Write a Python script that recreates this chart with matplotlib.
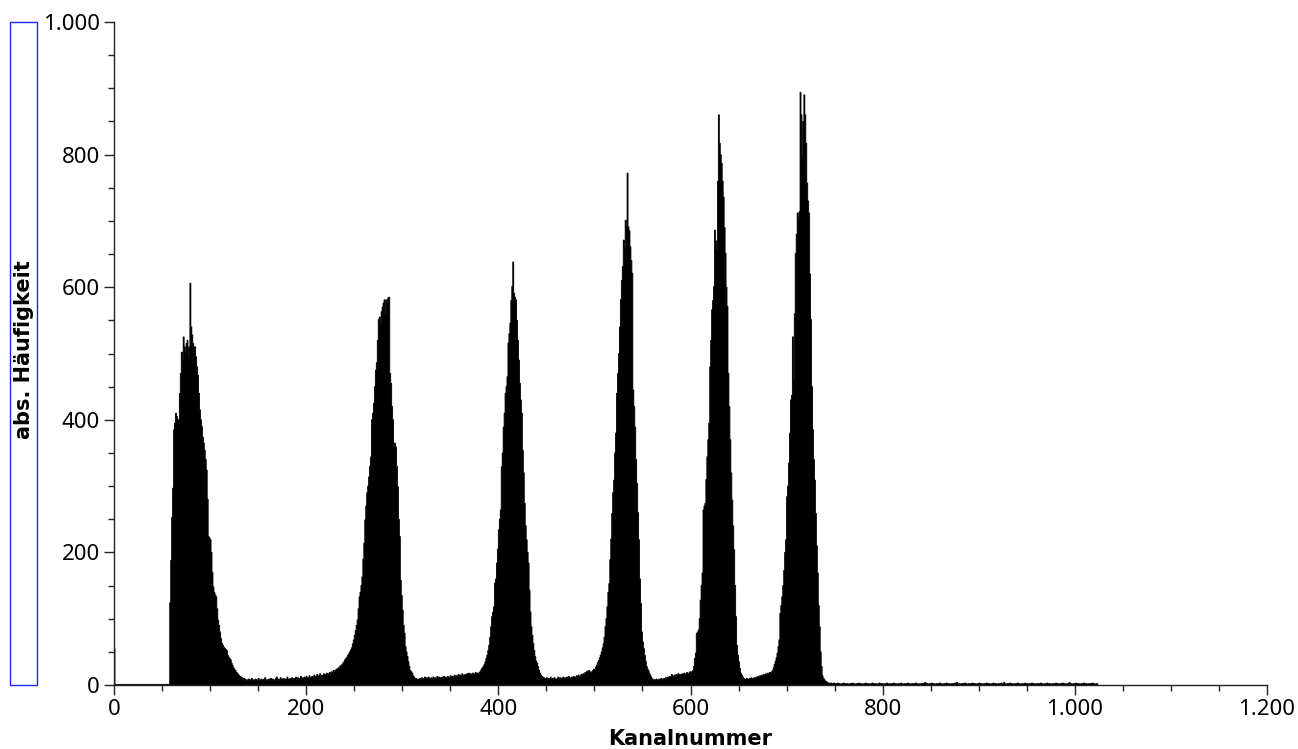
import matplotlib
matplotlib.use("Agg")
import matplotlib.pyplot as plt
import numpy as np
from matplotlib.patches import Rectangle
from matplotlib.ticker import MultipleLocator, FuncFormatter

# Spectrum: counts per channel
n_channels = 1024

lead = [55] + [1] * 57  # ch 0..57

peak1 = [  # ch 58..135
    124, 188, 253, 297, 385, 395, 410, 405, 400, 400,
    440, 470, 502, 490, 525, 510, 500, 515, 520, 495,
    510, 606, 540, 528, 515, 510, 510, 495, 480, 467,
    440, 415, 400, 390, 374, 365, 354, 340, 324, 280,
    224, 222, 219, 200, 170, 148, 140, 136, 133, 115,
    98, 90, 80, 70, 63, 60, 57, 55, 54, 52,
    45, 42, 40, 38, 33, 30, 26, 24, 22, 19,
    18, 16, 14, 13, 12, 11, 10, 10]

gap1 = [  # ch 136..229
    9, 7, 8, 6, 9, 7, 8, 10, 7, 8,
    6, 9, 8, 7, 10, 8, 6, 9, 7, 8,
    9, 11, 7, 8, 6, 9, 8, 10, 7, 9,
    8, 7, 10, 12, 8, 9, 7, 11, 8, 9,
    10, 8, 9, 7, 12, 9, 8, 10, 9, 11,
    8, 10, 9, 12, 8, 11, 9, 10, 13, 9,
    11, 10, 12, 9, 13, 10, 11, 14, 10, 12,
    13, 11, 15, 12, 13, 16, 12, 14, 17, 13,
    15, 14, 17, 15, 16, 18, 15, 17, 19, 18,
    20, 18, 22, 21]

peak2 = [  # ch 230..316
    22, 24, 23, 26, 25, 29, 28, 31, 33, 35,
    38, 40, 42, 45, 47, 50, 53, 56, 62, 68,
    75, 82, 90, 98, 115, 133, 140, 150, 163, 190,
    214, 249, 270, 290, 300, 314, 330, 344, 400, 410,
    425, 450, 475, 486, 520, 551, 555, 545, 563, 570,
    576, 581, 560, 581, 575, 584, 585, 470, 455, 420,
    400, 359, 365, 359, 330, 299, 250, 224, 158, 135,
    113, 90, 78, 58, 50, 43, 35, 28, 22, 20,
    18, 14, 12, 10, 10, 9, 8]

gap2 = [  # ch 317..381
    9, 10, 8, 11, 9, 10, 12, 9, 11, 10,
    12, 10, 9, 11, 10, 12, 9, 11, 10, 13,
    10, 12, 11, 9, 12, 10, 13, 11, 12, 10,
    13, 11, 12, 14, 11, 13, 12, 15, 12, 14,
    13, 16, 14, 15, 13, 17, 15, 14, 16, 15,
    17, 15, 18, 16, 17, 15, 18, 17, 16, 19,
    17, 18, 16, 19, 21]

peak3 = [  # ch 382..447
    24, 26, 28, 31, 35, 40, 45, 52, 60, 72,
    88, 103, 110, 118, 154, 160, 184, 205, 234, 250,
    264, 329, 350, 389, 410, 440, 450, 465, 516, 530,
    546, 580, 601, 638, 591, 585, 581, 550, 520, 490,
    455, 430, 410, 354, 320, 274, 240, 219, 200, 184,
    143, 110, 88, 75, 63, 52, 43, 36, 33, 28,
    22, 18, 15, 13, 12, 11]

gap3 = [  # ch 448..494
    10, 9, 11, 8, 10, 9, 12, 8, 10, 9,
    11, 9, 8, 10, 12, 9, 11, 10, 9, 12,
    10, 11, 9, 12, 10, 13, 11, 10, 12, 11,
    13, 12, 11, 14, 12, 15, 13, 14, 16, 14,
    17, 15, 19, 18, 21, 20, 22]

peak4 = [  # ch 495..561
    18, 20, 19, 22, 24, 23, 27, 30, 34, 37,
    41, 45, 50, 56, 62, 72, 88, 100, 118, 140,
    153, 189, 220, 259, 290, 309, 350, 380, 440, 470,
    500, 540, 581, 610, 631, 671, 660, 701, 690, 772,
    691, 685, 661, 640, 621, 445, 420, 389, 340, 304,
    260, 219, 160, 123, 80, 65, 55, 45, 36, 28,
    24, 21, 17, 14, 11, 9, 8]

gap4 = [  # ch 562..599
    8, 7, 9, 8, 7, 9, 8, 10, 8, 9,
    10, 9, 11, 10, 12, 11, 13, 12, 16, 14,
    13, 15, 14, 16, 15, 17, 14, 16, 15, 17,
    16, 18, 15, 17, 19, 16, 18, 20]

peak5 = [  # ch 600..655
    19, 20, 22, 28, 40, 48, 78, 80, 83, 100,
    128, 150, 169, 264, 270, 274, 310, 344, 370, 395,
    480, 520, 566, 580, 601, 686, 670, 656, 760, 860,
    817, 800, 787, 760, 736, 690, 651, 600, 571, 470,
    420, 370, 320, 279, 240, 204, 150, 103, 60, 45,
    35, 25, 18, 15, 12, 10]

gap5 = [  # ch 656..685
    9, 8, 10, 9, 8, 10, 9, 11, 9, 10,
    11, 10, 12, 11, 13, 12, 14, 13, 15, 14,
    16, 15, 17, 16, 18, 17, 19, 18, 20, 22]

peak6 = [  # ch 686..742
    26, 31, 36, 41, 48, 58, 68, 108, 120, 133,
    150, 173, 200, 219, 284, 300, 335, 380, 430, 437,
    525, 460, 560, 651, 680, 712, 700, 714, 894, 860,
    797, 850, 890, 860, 817, 757, 730, 712, 620, 551,
    450, 385, 340, 309, 259, 210, 169, 120, 88, 50,
    28, 14, 10, 8, 6, 5, 4]

tail = [  # ch 743..1023
    3, 3, 2, 3, 2, 2, 3, 2, 2, 2, 3, 2, 2, 1, 2, 2, 3, 2, 2, 2,
    2, 1, 2, 2, 2, 3, 2, 2, 1, 2, 2, 2, 3, 2, 2, 2, 1, 2, 2, 3,
    2, 2, 2, 1, 2, 2, 3, 2, 2, 2, 2, 1, 2, 3, 2, 2, 2, 2, 1, 2,
    2, 3, 2, 2, 1, 2, 2, 2, 3, 2, 2, 2, 1, 2, 2, 2, 3, 2, 1, 2,
    2, 2, 2, 3, 2, 2, 1, 2, 2, 2, 2, 3, 2, 2, 1, 2, 2, 2, 2, 2,
    3, 4, 2, 2, 1, 2, 2, 2, 3, 2, 2, 1, 2, 2, 2, 2, 3, 2, 2, 1,
    2, 2, 2, 3, 2, 2, 2, 1, 2, 2, 2, 2, 3, 2, 4, 2, 2, 1, 2, 2,
    2, 2, 3, 2, 2, 1, 2, 2, 2, 2, 3, 2, 2, 2, 1, 2, 2, 3, 2, 2,
    2, 1, 2, 2, 2, 3, 2, 2, 2, 1, 2, 2, 3, 2, 2, 2, 1, 2, 2, 2,
    3, 2, 2, 4, 2, 1, 2, 2, 2, 3, 2, 2, 2, 1, 2, 2, 2, 3, 2, 2,
    1, 2, 2, 2, 2, 3, 2, 2, 1, 2, 2, 2, 3, 2, 2, 2, 1, 2, 2, 2,
    2, 3, 2, 2, 1, 2, 2, 2, 3, 2, 2, 2, 1, 2, 2, 2, 2, 3, 2, 2,
    1, 2, 2, 2, 3, 2, 2, 2, 1, 2, 2, 4, 2, 2, 1, 2, 2, 2, 3, 2,
    2, 2, 1, 2, 2, 2, 3, 2, 2, 2, 1, 2, 2, 2, 2, 3, 2, 2, 1, 2,
    2]

# start channel of each block; background first, peaks on top
segments = [
    (0, lead), (136, gap1), (317, gap2), (448, gap3), (562, gap4),
    (656, gap5), (743, tail),
    (58, peak1), (230, peak2), (382, peak3), (495, peak4),
    (600, peak5), (686, peak6),
]

counts = np.zeros(n_channels)
for start, vals in segments:
    end = min(start + len(vals), n_channels)
    counts[start:end] = vals[:end - start]
edges = np.arange(n_channels + 1)


def de_thousands(v, pos):
    return f"{int(round(v)):,}".replace(",", ".")


W, H = 1298, 749
fig = plt.figure(figsize=(W / 100, H / 100), dpi=100)
ax = fig.add_axes([114 / W, 1 - 685 / H, (1267 - 114) / W, (685 - 22) / H])

ax.stairs(counts, edges, fill=True, color="black", linewidth=0)
ax.stairs(counts, edges, color="black", linewidth=0.6)

ax.set_xlim(0, 1200)
ax.set_ylim(0, 1000)

for side in ("top", "right"):
    ax.spines[side].set_visible(False)
for side in ("left", "bottom"):
    ax.spines[side].set_color("#222222")
    ax.spines[side].set_linewidth(1.0)

ax.xaxis.set_major_locator(MultipleLocator(200))
ax.xaxis.set_minor_locator(MultipleLocator(50))
ax.yaxis.set_major_locator(MultipleLocator(200))
ax.yaxis.set_minor_locator(MultipleLocator(50))
ax.xaxis.set_major_formatter(FuncFormatter(de_thousands))
ax.yaxis.set_major_formatter(FuncFormatter(de_thousands))

ax.tick_params(which="major", direction="out", length=7, width=1,
               color="#222222", labelsize=16, pad=3)
ax.tick_params(which="minor", direction="out", length=4.5, width=1,
               color="#222222")
for lab in ax.get_xticklabels() + ax.get_yticklabels():
    lab.set_family(["Noto Sans", "DejaVu Sans"])

fig.text(690 / W, 1 - 739 / H, "Kanalnummer", ha="center", va="center",
         fontsize=15, fontweight="bold", family="DejaVu Sans")
fig.text(24 / W, 1 - 350 / H, "abs. Häufigkeit", ha="center", va="center",
         rotation=90, fontsize=15, fontweight="bold", family="DejaVu Sans")

# blue frame round the y-axis title
fig.patches.append(Rectangle((10 / W, 1 - 685 / H), 27 / W, 663 / H,
                             transform=fig.transFigure, fill=False,
                             edgecolor="#2020ff", linewidth=1.0))

fig.savefig("out.png", dpi=100)
